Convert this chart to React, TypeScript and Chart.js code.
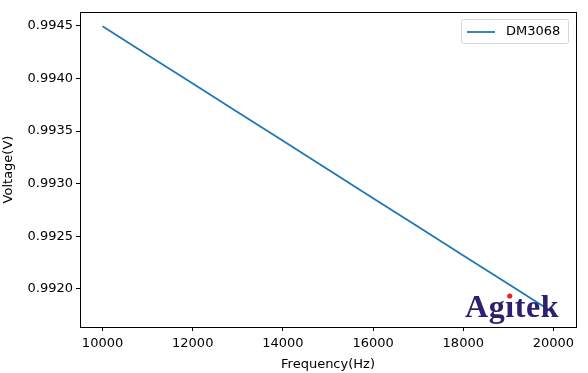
import React, { useEffect, useRef } from "react";
import { Chart, registerables } from "chart.js";

Chart.register(...registerables);

const seriesLabel = "DM3068";
const frequencies = [10000, 11000, 12000, 13000, 14000, 15000, 16000, 17000, 18000, 19000, 20000];
const voltages = [0.994495, 0.994223, 0.993951, 0.993679, 0.993407, 0.993135, 0.992863, 0.992591, 0.992319, 0.992047, 0.991775];
const xTicks = [10000, 12000, 14000, 16000, 18000, 20000];
const yTicks = [0.992, 0.9925, 0.993, 0.9935, 0.994, 0.9945];
const xTitle = "Frequency(Hz)";
const yTitle = "Voltage(V)";
const logoText = "Agitek";

const FONT = "'DejaVu Sans', sans-serif";

export default function App() {
  const ref = useRef<HTMLCanvasElement | null>(null);
  useEffect(() => {
    const canvas = ref.current!;
    const overlay = {
      id: "overlay",
      afterDraw(chart: any) {
        const ctx = chart.ctx as CanvasRenderingContext2D;
        const a = chart.chartArea;
        ctx.save();
        // frame
        ctx.strokeStyle = "#000";
        ctx.lineWidth = 1;
        ctx.strokeRect(Math.round(a.left) + 0.5, Math.round(a.top) + 0.5, Math.round(a.right - a.left), Math.round(a.bottom - a.top));
        // legend
        const lx = 461.5, ly = 19.5, lw = 107, lh = 24;
        ctx.fillStyle = "rgba(255,255,255,0.8)";
        ctx.strokeStyle = "#d5d5d5";
        ctx.beginPath();
        const r = 2;
        ctx.moveTo(lx + r, ly);
        ctx.lineTo(lx + lw - r, ly);
        ctx.quadraticCurveTo(lx + lw, ly, lx + lw, ly + r);
        ctx.lineTo(lx + lw, ly + lh - r);
        ctx.quadraticCurveTo(lx + lw, ly + lh, lx + lw - r, ly + lh);
        ctx.lineTo(lx + r, ly + lh);
        ctx.quadraticCurveTo(lx, ly + lh, lx, ly + lh - r);
        ctx.lineTo(lx, ly + r);
        ctx.quadraticCurveTo(lx, ly, lx + r, ly);
        ctx.fill();
        ctx.stroke();
        ctx.strokeStyle = "#1f77b4";
        ctx.lineWidth = 1.8;
        ctx.beginPath();
        ctx.moveTo(467, 32);
        ctx.lineTo(495, 32);
        ctx.stroke();
        ctx.fillStyle = "#000";
        ctx.font = `13px ${FONT}`;
        ctx.textBaseline = "middle";
        ctx.textAlign = "left";
        ctx.fillText(chart.data.datasets[0].label, 506, 32);
        // logo
        ctx.font = "bold 32px 'Liberation Serif', serif";
        ctx.fillStyle = "#2b2170";
        ctx.textBaseline = "alphabetic";
        const lx0 = 465, base = 317;
        let x = lx0;
        for (const ch of logoText) {
          if (ch === "i") {
            ctx.fillText("\u0131", x, base);
            const w = ctx.measureText("\u0131").width;
            ctx.fillStyle = "#e8202a";
            ctx.beginPath();
            ctx.arc(x + w / 2, base - 21, 2.6, 0, Math.PI * 2);
            ctx.fill();
            ctx.fillStyle = "#2b2170";
            x += w + 0.6;
          } else {
            ctx.fillText(ch, x, base);
            x += ctx.measureText(ch).width + 0.6;
          }
        }
        ctx.restore();
      },
    };
    const chart = new Chart(canvas, {
      type: "line",
      data: {
        datasets: [
          {
            label: seriesLabel,
            data: frequencies.map((f, i) => ({ x: f, y: voltages[i] })),
            borderColor: "#1f77b4",
            borderWidth: 1.8,
            pointRadius: 0,
            fill: false,
            tension: 0,
          },
        ],
      },
      options: {
        animation: false,
        responsive: false,
        maintainAspectRatio: false,
        layout: { padding: { left: 0, top: 12, right: 12, bottom: 0 } },
        plugins: { legend: { display: false }, tooltip: { enabled: false } },
        scales: {
          x: {
            type: "linear",
            min: 9500,
            max: 20500,
            afterBuildTicks: (s: any) => {
              s.ticks = xTicks.map((v) => ({ value: v }));
            },
            afterFit: (s: any) => {
              s.height = 46;
            },
            ticks: {
              color: "#000",
              font: { family: FONT, size: 13 },
              padding: 5,
              maxRotation: 0,
              autoSkip: false,
              callback: (v: any) => String(v),
            },
            grid: { drawOnChartArea: false, drawTicks: true, tickLength: 4, color: "#000" },
            border: { display: true, color: "#000" },
            title: { display: true, text: xTitle, color: "#000", font: { family: FONT, size: 13 }, padding: { top: 0, bottom: 1 } },
          },
          y: {
            type: "linear",
            min: 0.991639,
            max: 0.994631,
            afterBuildTicks: (s: any) => {
              s.ticks = yTicks.map((v) => ({ value: v }));
            },
            afterFit: (s: any) => {
              s.width = 80;
            },
            ticks: {
              color: "#000",
              font: { family: FONT, size: 13 },
              padding: 3,
              autoSkip: false,
              callback: (v: any) => Number(v).toFixed(4),
            },
            grid: { drawOnChartArea: false, drawTicks: true, tickLength: 4, color: "#000" },
            border: { display: true, color: "#000" },
            title: { display: true, text: yTitle, color: "#000", font: { family: FONT, size: 13 }, padding: { top: 1, bottom: 2 } },
          },
        },
      },
      plugins: [overlay],
    } as any);
    return () => chart.destroy();
  }, []);
  return (
    <div style={{ position: "fixed", left: 0, top: 0, width: 588, height: 373, background: "#fff" }}>
      <canvas ref={ref} width={588} height={373} style={{ display: "block", width: 588, height: 373 }} />
    </div>
  );
}
